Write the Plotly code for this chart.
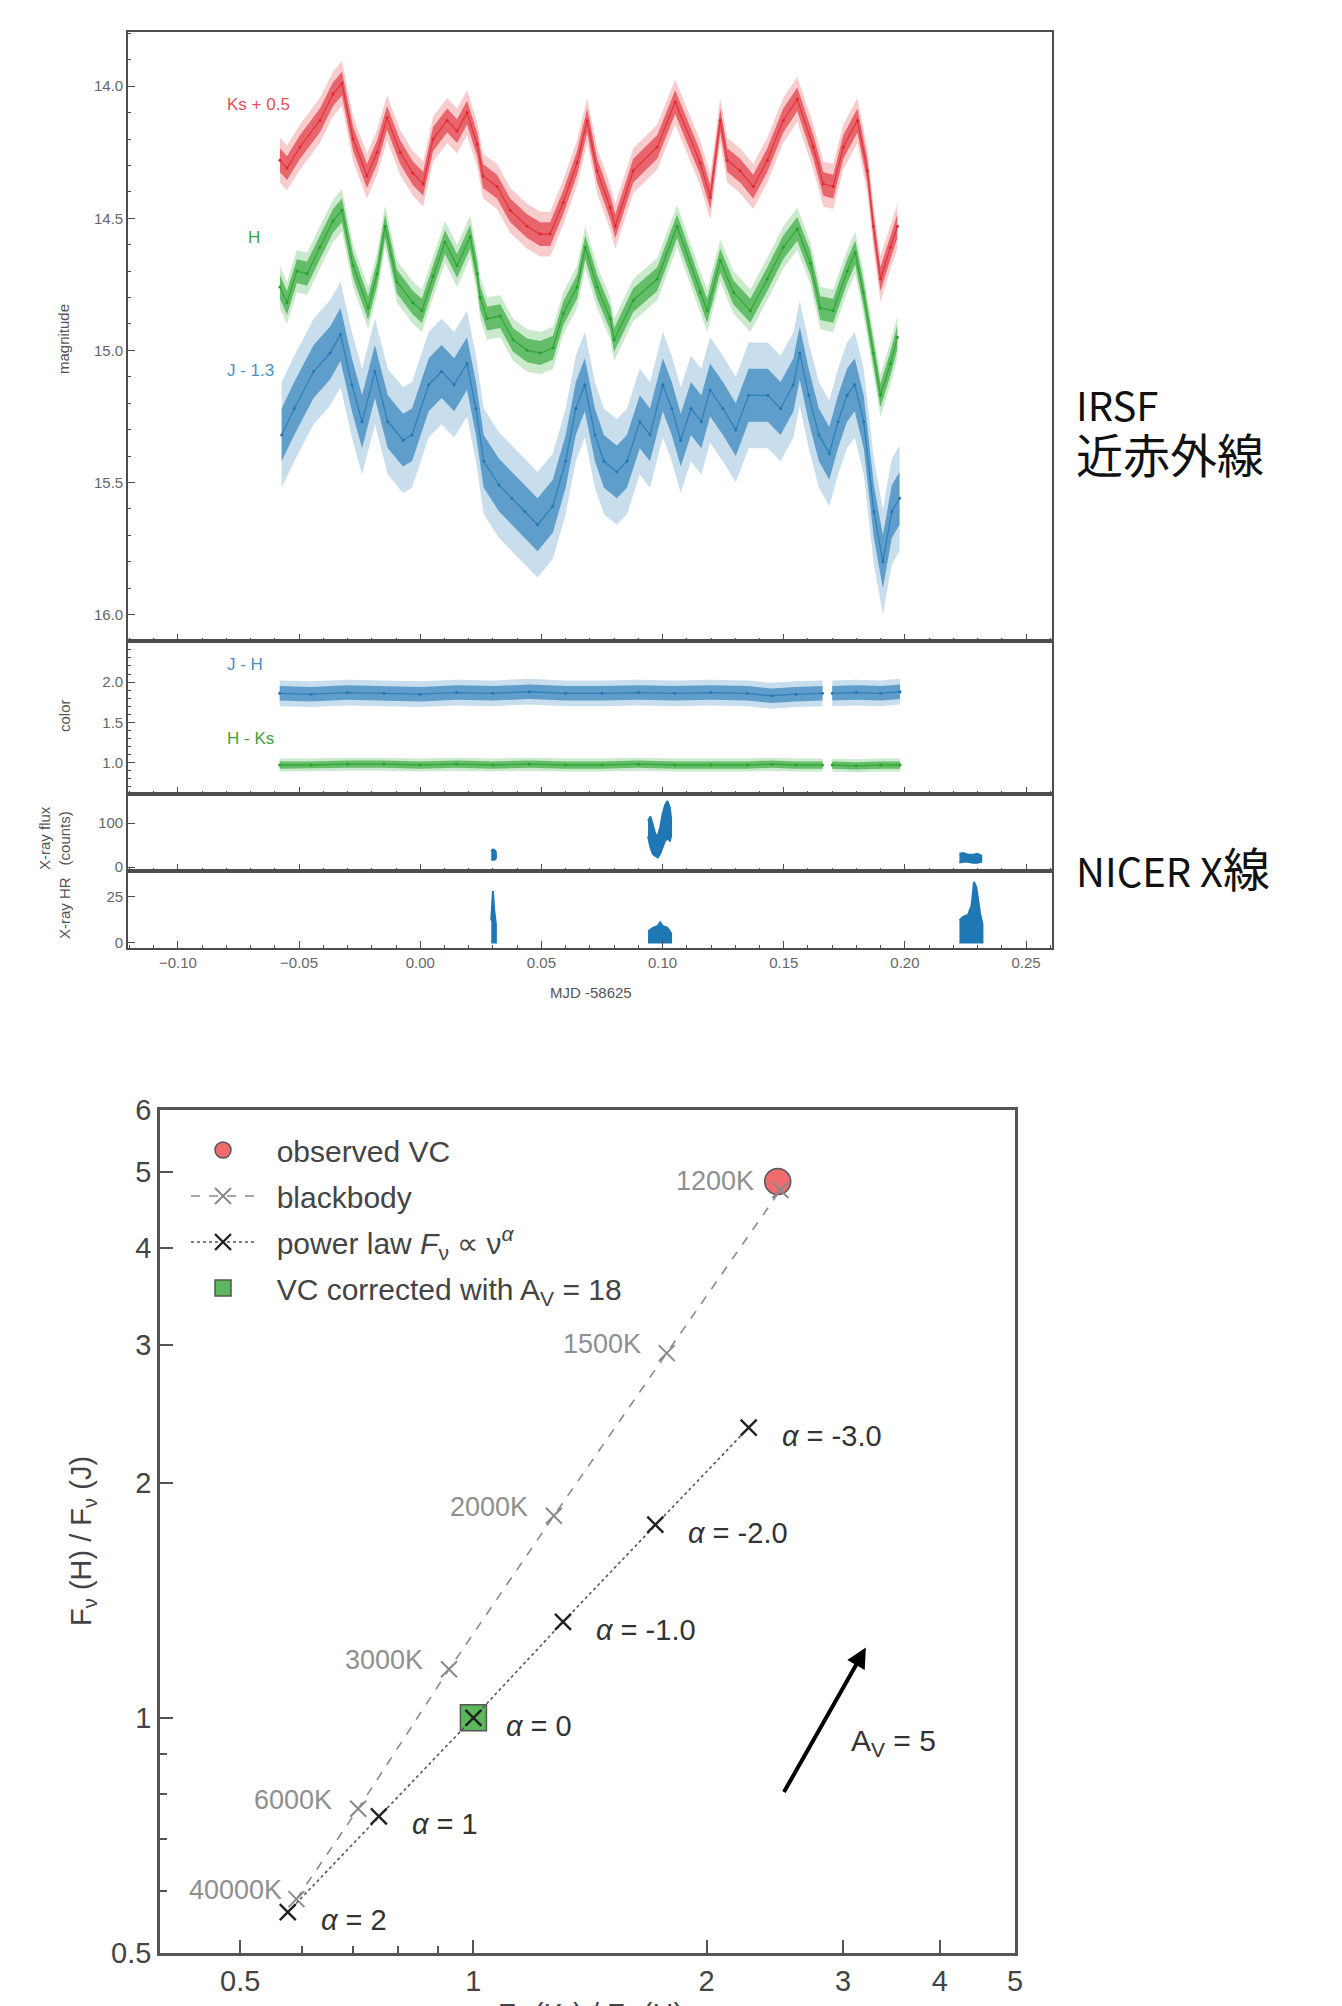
import math
import plotly.graph_objects as go

W, H = 1342, 2006

# ---------------- top figure data (MJD - 58625) ----------------
KS_T = [-0.0579, -0.0550, -0.0496, -0.0414, -0.0360, -0.0323, -0.0277, -0.0220, -0.0178, -0.0137,
        -0.0083, -0.0030, 0.0012, 0.0053, 0.0111, 0.0152, 0.0193, 0.0235, 0.0259, 0.0317,
        0.0371, 0.0441, 0.0495, 0.0536, 0.0590, 0.0647, 0.0689, 0.0730, 0.0784, 0.0805,
        0.0879, 0.0978, 0.1052, 0.1155, 0.1197, 0.1238, 0.1267, 0.1320, 0.1374, 0.1432,
        0.1498, 0.1556, 0.1622, 0.1663, 0.1704, 0.1746, 0.1804, 0.1845, 0.1870, 0.1899,
        0.1940, 0.1969]
KS_MAG = [14.28, 14.31, 14.23, 14.13, 14.03, 13.99, 14.20, 14.34, 14.25, 14.12,
          14.25, 14.33, 14.37, 14.20, 14.13, 14.17, 14.10, 14.22, 14.34, 14.38,
          14.47, 14.53, 14.56, 14.56, 14.44, 14.29, 14.13, 14.32, 14.46, 14.53,
          14.32, 14.23, 14.06, 14.29, 14.42, 14.13, 14.28, 14.32, 14.38, 14.28,
          14.13, 14.05, 14.23, 14.37, 14.38, 14.23, 14.13, 14.32, 14.53, 14.73,
          14.61, 14.53]

H_T = [-0.0579, -0.0550, -0.0509, -0.0467, -0.0414, -0.0360, -0.0323, -0.0277, -0.0215, -0.0178,
       -0.0145, -0.0096, -0.0030, 0.0007, 0.0053, 0.0102, 0.0152, 0.0206, 0.0235, 0.0247,
       0.0276, 0.0330, 0.0383, 0.0441, 0.0495, 0.0548, 0.0590, 0.0647, 0.0681, 0.0730,
       0.0784, 0.0800, 0.0879, 0.0978, 0.1060, 0.1155, 0.1184, 0.1238, 0.1292, 0.1362,
       0.1432, 0.1498, 0.1556, 0.1610, 0.1651, 0.1704, 0.1762, 0.1795, 0.1828, 0.1870,
       0.1899, 0.1940, 0.1969]
H_MAG = [14.76, 14.82, 14.70, 14.71, 14.61, 14.51, 14.47, 14.68, 14.84, 14.71,
         14.53, 14.74, 14.82, 14.85, 14.72, 14.59, 14.68, 14.57, 14.71, 14.80,
         14.88, 14.87, 14.96, 15.00, 15.01, 14.99, 14.86, 14.76, 14.61, 14.76,
         14.88, 14.96, 14.81, 14.73, 14.53, 14.78, 14.85, 14.66, 14.78, 14.85,
         14.73, 14.61, 14.54, 14.67, 14.84, 14.85, 14.70, 14.63, 14.78, 15.01,
         15.17, 15.05, 14.95]

J_T = [-0.0572, -0.0520, -0.0440, -0.0372, -0.0329, -0.0282, -0.0240, -0.0187, -0.0134, -0.0071,
       -0.0034, 0.0035, 0.0088, 0.0140, 0.0193, 0.0230, 0.0262, 0.0325, 0.0378, 0.0431,
       0.0484, 0.0547, 0.0600, 0.0642, 0.0679, 0.0721, 0.0758, 0.0811, 0.0853, 0.0906,
       0.0948, 0.1001, 0.1038, 0.1075, 0.1117, 0.1160, 0.1196, 0.1249, 0.1302, 0.1355,
       0.1434, 0.1487, 0.1540, 0.1566, 0.1603, 0.1645, 0.1688, 0.1724, 0.1761, 0.1793,
       0.1830, 0.1872, 0.1909, 0.1946, 0.1978]
J_MAG = [15.32, 15.22, 15.08, 15.01, 14.94, 15.13, 15.27, 15.08, 15.27, 15.34,
         15.32, 15.13, 15.08, 15.13, 15.05, 15.22, 15.42, 15.51, 15.56, 15.61,
         15.66, 15.59, 15.42, 15.22, 15.13, 15.32, 15.42, 15.46, 15.42, 15.27,
         15.32, 15.13, 15.22, 15.34, 15.22, 15.27, 15.15, 15.22, 15.30, 15.17,
         15.17, 15.22, 15.13, 15.01, 15.17, 15.32, 15.39, 15.27, 15.17, 15.13,
         15.27, 15.61, 15.80, 15.61, 15.56]

# typical vertical scatter of each light curve (magnitudes): core, with error bars
KS_SCATTER = [0.045, 0.085]
H_SCATTER = [0.045, 0.080]
J_SCATTER = [0.100, 0.200]

# colours (None marks the observing gap)
JH_T = [-0.058, -0.045, -0.030, -0.015, 0.000, 0.015, 0.030, 0.045, 0.060, 0.075, 0.090,
        0.105, 0.120, 0.135, 0.145, 0.155, 0.166, None, 0.170, 0.180, 0.190, 0.198]
JH = [1.86, 1.85, 1.87, 1.86, 1.85, 1.87, 1.86, 1.88, 1.86, 1.86, 1.87,
      1.86, 1.87, 1.86, 1.83, 1.85, 1.86, None, 1.86, 1.87, 1.86, 1.88]
HK_T = JH_T
HK = [0.97, 0.97, 0.98, 0.98, 0.97, 0.98, 0.97, 0.98, 0.97, 0.97, 0.98,
      0.97, 0.97, 0.97, 0.98, 0.97, 0.97, None, 0.97, 0.96, 0.97, 0.97]
JH_SCATTER = [0.09, 0.16]
HK_SCATTER = [0.045, 0.08]

# NICER X-ray: three visits (time, lower, upper envelope)
FLUX_T = [[0.0293, 0.0300, 0.0307, 0.0312],
          [0.0940, 0.0950, 0.0960, 0.0970, 0.0980, 0.0990, 0.1000, 0.1010, 0.1020, 0.1030, 0.1035],
          [0.2225, 0.2240, 0.2260, 0.2280, 0.2300, 0.2315]]
FLUX_LO = [[18, 16, 17, 20],
           [70, 45, 30, 25, 22, 30, 45, 60, 65, 60, 70],
           [10, 12, 12, 10, 10, 12]]
FLUX_HI = [[36, 40, 38, 34],
           [105, 115, 95, 75, 70, 90, 120, 140, 150, 135, 110],
           [30, 32, 28, 28, 30, 26]]
HR_T = [[0.0293, 0.0300, 0.0305, 0.0312],
        [0.0940, 0.0960, 0.0980, 0.0990, 0.1000, 0.1020, 0.1035],
        [0.2225, 0.2240, 0.2260, 0.2275, 0.2285, 0.2295, 0.2310, 0.2320]]
HR_LO = [[0, 0, 0, 0],
         [0, 0, 0, 0, 0, 0, 0],
         [0, 0, 0, 0, 0, 0, 0, 0]]
HR_HI = [[12, 28, 18, 10],
         [6, 8, 9, 11, 9, 8, 5],
         [12, 14, 15, 20, 33, 30, 16, 10]]

# ---------------- bottom figure data ----------------
BB_LABELS = ["40000K", "6000K", "3000K", "2000K", "1500K", "1200K"]
BB_X = [0.591, 0.710, 0.930, 1.27, 1.776, 2.49]
BB_Y = [0.586, 0.765, 1.154, 1.814, 2.93, 4.74]
PL_LABELS = ["2", "1", "0", "-1.0", "-2.0", "-3.0"]
PL_X = [0.576, 0.755, 1.0, 1.305, 1.717, 2.266]
PL_Y = [0.564, 0.748, 1.0, 1.327, 1.767, 2.353]
VC_OBS = [2.47, 4.86]
VC_CORR = [1.0, 1.0]
AV_TAIL = [2.51, 0.80]
AV_HEAD = [3.21, 1.23]
AV_LABEL_POS = [3.05, 0.93]

RED, GREEN, BLUE = "#e02630", "#25a22a", "#1f77b4"


def rgba(hexc, a):
    hexc = hexc.lstrip('#')
    r, g, b = int(hexc[0:2], 16), int(hexc[2:4], 16), int(hexc[4:6], 16)
    return f"rgba({r},{g},{b},{a})"


def segments(t, c):
    segs, cur = [], []
    for ti, ci in zip(t, c):
        if ti is None:
            if cur:
                segs.append(cur)
            cur = []
        else:
            cur.append((ti, ci))
    if cur:
        segs.append(cur)
    return segs


fig = go.Figure()


def light_curve(t, c, scatter, color, xa, ya):
    for seg in segments(t, c):
        xs = [p[0] for p in seg]
        ys = [p[1] for p in seg]
        for half, alpha in ((scatter[1], 0.24), (scatter[0], 0.62)):
            lo = [v - half for v in ys]
            hi = [v + half for v in ys]
            fig.add_trace(go.Scatter(x=xs + xs[::-1], y=hi + lo[::-1], mode='lines',
                                     fill='toself', fillcolor=rgba(color, alpha),
                                     line=dict(width=0), xaxis=xa, yaxis=ya,
                                     showlegend=False, hoverinfo='skip'))
        fig.add_trace(go.Scatter(x=xs, y=ys, mode='lines+markers',
                                 line=dict(color=rgba(color, 0.75), width=1.3),
                                 marker=dict(size=3, color=color),
                                 xaxis=xa, yaxis=ya, showlegend=False, hoverinfo='skip'))


light_curve(KS_T, KS_MAG, KS_SCATTER, RED, 'x', 'y')
light_curve(H_T, H_MAG, H_SCATTER, GREEN, 'x', 'y')
light_curve(J_T, J_MAG, J_SCATTER, BLUE, 'x', 'y')
light_curve(JH_T, JH, JH_SCATTER, BLUE, 'x2', 'y2')
light_curve(HK_T, HK, HK_SCATTER, GREEN, 'x2', 'y2')


def xray(ts, los, his, xa, ya):
    for t, lo, hi in zip(ts, los, his):
        fig.add_trace(go.Scatter(x=t + t[::-1], y=hi + lo[::-1], mode='lines', fill='toself',
                                 fillcolor=BLUE, line=dict(color=BLUE, width=2),
                                 xaxis=xa, yaxis=ya, showlegend=False, hoverinfo='skip'))


xray(FLUX_T, FLUX_LO, FLUX_HI, 'x3', 'y3')
xray(HR_T, HR_LO, HR_HI, 'x4', 'y4')

# ---------------- bottom traces ----------------
NB = '\u00a0\u00a0'
fig.add_trace(go.Scatter(x=[VC_OBS[0]], y=[VC_OBS[1]], mode='markers', name=NB + 'observed VC',
                         marker=dict(symbol='circle', size=26, color='#ef6b6e',
                                     line=dict(color='#555', width=1.5)),
                         xaxis='x5', yaxis='y5', legendgroup='a', legendrank=1))
fig.add_trace(go.Scatter(x=BB_X, y=BB_Y, mode='lines+markers', name=NB + 'blackbody',
                         line=dict(color='#8a8a8a', width=1.6, dash='dash'),
                         marker=dict(symbol='x-thin', size=16, line=dict(color='#8a8a8a', width=2)),
                         xaxis='x5', yaxis='y5', legendgroup='b', legendrank=2))
fig.add_trace(go.Scatter(x=[VC_CORR[0]], y=[VC_CORR[1]], mode='markers',
                         name=NB + 'VC corrected with A<sub>V</sub> = 18',
                         marker=dict(symbol='square', size=26, color='#5cb85c',
                                     line=dict(color='#555', width=1.5)),
                         xaxis='x5', yaxis='y5', legendgroup='d', legendrank=4))
fig.add_trace(go.Scatter(x=PL_X, y=PL_Y, mode='lines+markers',
                         name=NB + 'power law <i>F</i><sub>ν</sub> ∝ ν<sup><i>α</i></sup>',
                         line=dict(color='#555', width=1.6, dash='dot'),
                         marker=dict(symbol='x-thin', size=16, line=dict(color='#222', width=2.4)),
                         xaxis='x5', yaxis='y5', legendgroup='c', legendrank=3))

# ---------------- layout ----------------
def px(v):
    return v / W


def py(v):
    return 1 - v / H


XD_TOP = [px(128), px(1052)]
X_RANGE = [-0.1206, 0.2607]
AX = '#4d4d4d'
TICKF = dict(family='Liberation Sans, Arial', size=15, color='#666')


def top_x(anchor, labels):
    return dict(domain=XD_TOP, range=X_RANGE, anchor=anchor, showline=True, mirror=True,
                linecolor=AX, linewidth=1.6, ticks='inside', ticklen=7, tickwidth=1.2,
                tickcolor=AX, dtick=0.05, tick0=0, tickformat='.2f', showticklabels=labels,
                tickfont=TICKF, showgrid=False, zeroline=False, automargin=False,
                minor=dict(dtick=0.01, tick0=0, ticks='inside', ticklen=3.5, tickcolor=AX,
                           tickwidth=1))


def top_y(dom, rng, anchor, **kw):
    d = dict(domain=dom, range=rng, anchor=anchor, showline=True, mirror=True, linecolor=AX,
             linewidth=1.6, ticks='inside', ticklen=7, tickwidth=1.2, tickcolor=AX,
             tickfont=TICKF, showgrid=False, zeroline=False, automargin=False)
    d.update(kw)
    return d


BOTF = dict(family='Liberation Sans, Arial', size=29, color='#444')
LOGX = [math.log10(0.394), math.log10(5)]
LOGY = [math.log10(0.5), math.log10(6)]

fig.update_layout(
    width=W, height=H, autosize=False,
    margin=dict(l=0, r=0, t=0, b=0, pad=0, autoexpand=False),
    paper_bgcolor='white', plot_bgcolor='white',
    font=dict(family='Liberation Sans, Arial', color='#444'),
    xaxis=top_x('y', False),
    xaxis2=top_x('y2', False),
    xaxis3=top_x('y3', False),
    xaxis4=top_x('y4', True),
    yaxis=top_y([py(641), py(32)], [16.1, 13.795], 'x', tickvals=[14.0, 14.5, 15.0, 15.5, 16.0],
                tickformat='.1f',
                minor=dict(dtick=0.1, tick0=14, ticks='inside', ticklen=3.5, tickcolor=AX)),
    yaxis2=top_y([py(794), py(641)], [0.61, 2.51], 'x2', tickvals=[1.0, 1.5, 2.0],
                 tickformat='.1f',
                 minor=dict(dtick=0.1, tick0=1, ticks='inside', ticklen=3.5, tickcolor=AX)),
    yaxis3=top_y([py(871), py(794)], [-9, 166], 'x3', tickvals=[0, 100]),
    yaxis4=top_y([py(948), py(871)], [-3, 39], 'x4', tickvals=[0, 25]),
    xaxis5=dict(type='log', domain=[px(160), px(1015)], range=LOGX, anchor='y5',
                showline=True, mirror=True, linecolor='#555', linewidth=2.5,
                ticks='inside', ticklen=13, tickwidth=2, tickcolor='#555',
                tickvals=[0.5, 1, 2, 3, 4, 5], ticktext=['0.5', '1', '2', '3', '4', '5'],
                tickfont=BOTF, showgrid=False, zeroline=False, automargin=False,
                minor=dict(tickvals=[0.6, 0.7, 0.8, 0.9], ticks='inside', ticklen=7,
                           tickwidth=1.5, tickcolor='#555')),
    yaxis5=dict(type='log', domain=[py(1953), py(1110)], range=LOGY, anchor='x5',
                showline=True, mirror=True, linecolor='#555', linewidth=2.5,
                ticks='inside', ticklen=13, tickwidth=2, tickcolor='#555',
                tickvals=[0.5, 1, 2, 3, 4, 5, 6], ticktext=['0.5', '1', '2', '3', '4', '5', '6'],
                tickfont=BOTF, showgrid=False, zeroline=False, automargin=False,
                minor=dict(tickvals=[0.6, 0.7, 0.8, 0.9], ticks='inside', ticklen=7,
                           tickwidth=1.5, tickcolor='#555')),
    showlegend=True,
    legend=dict(x=px(186), y=py(1124), xanchor='left', yanchor='top', bgcolor='rgba(0,0,0,0)',
                font=dict(family='Liberation Sans, Arial', size=30, color='#444'),
                tracegroupgap=4, itemwidth=64, traceorder='grouped'),
)

ann = []


def a(**kw):
    ann.append(kw)


SMALL = dict(family='Liberation Sans, Arial', size=17)
a(x=-0.0806, y=14.07, xref='x', yref='y', text='Ks + 0.5', showarrow=False, xanchor='left',
  font=dict(SMALL, color='#e4505a'))
a(x=-0.072, y=14.574, xref='x', yref='y', text='H', showarrow=False, xanchor='left',
  font=dict(SMALL, color='#3aa53a'))
a(x=-0.0806, y=15.076, xref='x', yref='y', text='J - 1.3', showarrow=False, xanchor='left',
  font=dict(SMALL, color='#4a90c8'))
a(x=-0.0806, y=2.22, xref='x2', yref='y2', text='J - H', showarrow=False, xanchor='left',
  font=dict(SMALL, color='#4a90c8'))
a(x=-0.0806, y=1.305, xref='x2', yref='y2', text='H - Ks', showarrow=False, xanchor='left',
  font=dict(SMALL, color='#3aa53a'))

TITLEF = dict(family='Liberation Sans, Arial', size=15, color='#555')
for txt, xx, yy in (('magnitude', 64, 339), ('color', 64, 716),
                    ('X-ray flux<br>(counts)', 54, 838), ('X-ray HR', 64, 908)):
    a(x=px(xx), y=py(yy), xref='paper', yref='paper', text=txt, showarrow=False,
      textangle=-90, font=TITLEF, xanchor='center', yanchor='middle')
a(x=px(591), y=py(993), xref='paper', yref='paper', text='MJD -58625', showarrow=False,
  font=TITLEF)

BIG = dict(family='Noto Sans CJK JP', size=40, color='#111')
a(x=px(1074), y=py(431), xref='paper', yref='paper',
  text='IRSF<br><span style="font-size:47px">近赤外線</span>', showarrow=False,
  xanchor='left', yanchor='middle', align='left', font=BIG)
a(x=px(1074), y=py(866), xref='paper', yref='paper',
  text='NICER X<span style="font-size:47px">線</span>', showarrow=False,
  xanchor='left', yanchor='middle', font=BIG)

# bottom labels
for lab, xv, yv in zip(BB_LABELS, BB_X, BB_Y):
    a(x=math.log10(xv), y=math.log10(yv), xref='x5', yref='y5', text=lab, showarrow=False,
      xanchor='right', yanchor='middle', xshift=-12 if lab == '40000K' else -24, yshift=9,
      font=dict(family='Liberation Sans, Arial', size=27, color='#8f8f8f'))
for lab, xv, yv in zip(PL_LABELS, PL_X, PL_Y):
    a(x=math.log10(xv), y=math.log10(yv), xref='x5', yref='y5', text=f'<i>α</i> = {lab}',
      showarrow=False, xanchor='left', yanchor='middle', xshift=31, yshift=-8,
      font=dict(family='Liberation Sans, Arial', size=29, color='#333'))

a(x=math.log10(AV_HEAD[0]), y=math.log10(AV_HEAD[1]), ax=math.log10(AV_TAIL[0]),
  ay=math.log10(AV_TAIL[1]), xref='x5', yref='y5', axref='x5', ayref='y5', text='',
  showarrow=True, arrowhead=2, arrowsize=1, arrowwidth=4, arrowcolor='black')
a(x=math.log10(AV_LABEL_POS[0]), y=math.log10(AV_LABEL_POS[1]), xref='x5', yref='y5',
  text='A<sub>V</sub> = 5', showarrow=False, xanchor='left', yanchor='middle',
  font=dict(family='Liberation Sans, Arial', size=30, color='#333'))

a(x=px(83), y=py(1541), xref='paper', yref='paper',
  text='F<sub>ν</sub> (H) / F<sub>ν</sub> (J)', showarrow=False, textangle=-90,
  font=BOTF, xanchor='center', yanchor='middle')
a(x=px(590), y=py(2016), xref='paper', yref='paper',
  text='F<sub>ν</sub> (K<sub>s</sub>) / F<sub>ν</sub> (H)', showarrow=False,
  font=BOTF, xanchor='center', yanchor='middle')

fig.update_layout(annotations=ann)
fig.write_html('out.html')
